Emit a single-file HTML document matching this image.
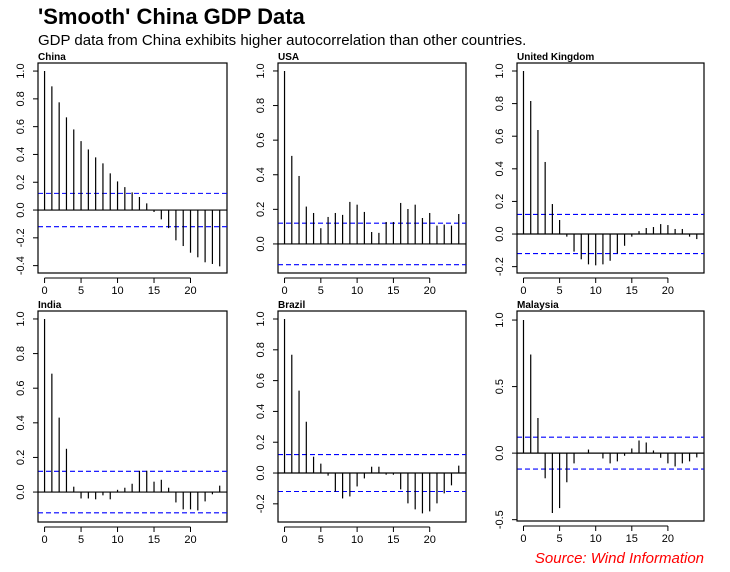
<!DOCTYPE html>
<html><head><meta charset="utf-8"><style>
body{margin:0;background:#fff;}
svg{display:block;font-family:"Liberation Sans",Arial,sans-serif;}
</style></head><body>
<svg id="c" width="730" height="572" xmlns="http://www.w3.org/2000/svg">
<text x="38" y="24" font-size="22" font-weight="bold" fill="#000">'Smooth' China GDP Data</text>
<text x="38" y="45" font-size="15" fill="#000">GDP data from China exhibits higher autocorrelation than other countries.</text>
<text x="704" y="563" font-size="15" font-style="italic" fill="#ff0000" text-anchor="end">Source: Wind Information</text>
</svg>
<script>
const lags = [0,1,2,3,4,5,6,7,8,9,10,11,12,13,14,15,16,17,18,19,20,21,22,23,24];
const xTicks = [0,5,10,15,20];
const chinaAcf = [1,0.89,0.775,0.667,0.58,0.496,0.436,0.379,0.336,0.264,0.206,0.165,0.127,0.094,0.048,-0.014,-0.067,-0.13,-0.218,-0.259,-0.307,-0.34,-0.376,-0.388,-0.405];
const usaAcf = [1,0.509,0.393,0.216,0.179,0.091,0.156,0.179,0.168,0.243,0.227,0.185,0.069,0.064,0.127,0.127,0.237,0.202,0.227,0.150,0.179,0.106,0.112,0.106,0.173];
const ukAcf = [1,0.816,0.638,0.442,0.184,0.086,-0.016,-0.108,-0.155,-0.186,-0.192,-0.186,-0.164,-0.119,-0.072,-0.016,0.018,0.037,0.043,0.061,0.055,0.031,0.031,-0.016,-0.031];
const indiaAcf = [1,0.684,0.43,0.25,0.031,-0.037,-0.037,-0.042,-0.019,-0.042,0.013,0.025,0.048,0.123,0.123,0.06,0.071,0.025,-0.06,-0.1,-0.1,-0.106,-0.054,-0.013,0.037];
const brazilAcf = [1,0.768,0.535,0.333,0.106,0.061,-0.017,-0.121,-0.165,-0.152,-0.087,-0.035,0.041,0.041,-0.011,-0.011,-0.106,-0.197,-0.236,-0.262,-0.249,-0.197,-0.132,-0.08,0.048];
const malaysiaAcf = [1,0.741,0.264,-0.189,-0.45,-0.413,-0.219,-0.077,0,0.027,0,-0.04,-0.077,-0.062,-0.02,0.035,0.095,0.08,0.02,-0.035,-0.077,-0.1,-0.077,-0.062,-0.032];
const chinaTicks = [-0.4,-0.2,0,0.2,0.4,0.6,0.8,1];
const usaTicks = [0,0.2,0.4,0.6,0.8,1];
const ukTicks = [-0.2,0,0.2,0.4,0.6,0.8,1];
const indiaTicks = [0,0.2,0.4,0.6,0.8,1];
const brazilTicks = [-0.2,0,0.2,0.4,0.6,0.8,1];
const malaysiaTicks = [-0.5,0,0.5,1];
const confBound = 0.12;

const NS='http://www.w3.org/2000/svg';
const svg=document.getElementById('c');
function mk(tag,attrs,parent){const e=document.createElementNS(NS,tag);for(const k in attrs)e.setAttribute(k,attrs[k]);(parent||svg).appendChild(e);return e;}

function panel(key,title,vals,ticks,fmt,L,R,T,B,ymin,ymax){
  const g=mk('g',{});
  
  
  const xs=v=>L+(v+0.9)/(25.9)*(R-L);
  const ys=v=>B-(v-ymin)/(ymax-ymin)*(B-T);
  const box=mk('rect',{x:L,y:T,width:R-L,height:B-T,fill:'none',stroke:'#000','stroke-width':1.2},g);
  
  
  const tt=mk('text',{x:L,y:T-3,'font-size':10,'font-weight':'bold'},g);tt.textContent=title;
  
  
  const z=mk('line',{x1:L,x2:R,y1:ys(0),y2:ys(0),stroke:'#000','stroke-width':1.2},g);
  
  
  [confBound,-confBound].forEach((b,i)=>{
    const d=mk('line',{x1:L,x2:R,y1:ys(b),y2:ys(b),stroke:'#0000ff','stroke-width':1.1,'stroke-dasharray':'5,3'},g);
    
    
  });
  vals.forEach((v,i)=>{
    const l=mk('line',{x1:xs(lags[i]),x2:xs(lags[i]),y1:ys(0),y2:ys(v),stroke:'#000','stroke-width':1.2},g);
    
    
  });
  const ax=B+5;
  const xa=mk('line',{x1:xs(xTicks[0]),x2:xs(xTicks[xTicks.length-1]),y1:ax,y2:ax,stroke:'#000'},g);
  
  
  xTicks.forEach(t=>{
    mk('line',{x1:xs(t),x2:xs(t),y1:ax,y2:ax+5,stroke:'#000'},g);
    const tx=mk('text',{x:xs(t),y:ax+16,'font-size':11,'text-anchor':'middle'},g);tx.textContent=t;
    
    
  });
  const ya=mk('line',{x1:L,x2:L,y1:ys(ticks[0]),y2:ys(ticks[ticks.length-1]),stroke:'#000'},g);
  
  
  ticks.forEach(t=>{
    mk('line',{x1:L-5,x2:L,y1:ys(t),y2:ys(t),stroke:'#000'},g);
    const lx=L-14,ly=ys(t);
    const tx=mk('text',{x:lx,y:ly,'font-size':11,'text-anchor':'middle',transform:`rotate(-90 ${lx} ${ly})`},g);
    tx.textContent=t.toFixed(fmt);
    
    
  });
}
panel('china','China',chinaAcf,chinaTicks,1,38,227,63,273,-0.453,1.058);
panel('usa','USA',usaAcf,usaTicks,1,278,466,63,273,-0.168,1.046);
panel('uk','United Kingdom',ukAcf,ukTicks,1,517,704,63,273,-0.239,1.049);
panel('india','India',indiaAcf,indiaTicks,1,38,227,311,522,-0.173,1.046);
panel('brazil','Brazil',brazilAcf,brazilTicks,1,278,466,311,522,-0.318,1.052);
panel('malaysia','Malaysia',malaysiaAcf,malaysiaTicks,1,517,704,311,521,-0.51,1.068);
</script>
</body></html>
